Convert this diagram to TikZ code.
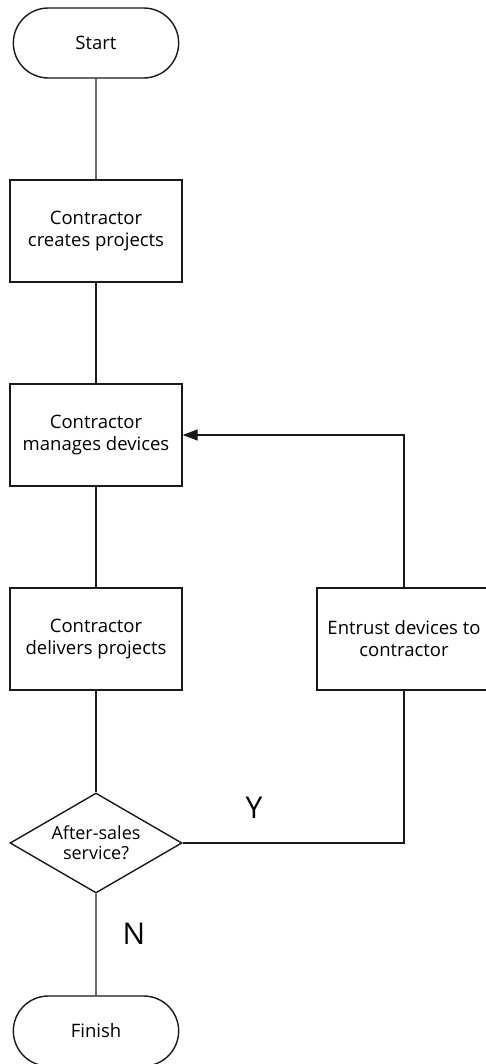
\documentclass[tikz,border=0pt]{standalone}
\usepackage{fontspec}
\setmainfont{Open Sans}
\usetikzlibrary{shapes.misc,shapes.geometric,arrows.meta}

\tikzset{
  flow/.style={line width=1.4pt, draw=black!90},
  terminal/.style={flow, rounded rectangle, minimum width=172pt, minimum height=70pt, font=\fontsize{18.5}{22}\selectfont},
  process/.style={flow, rectangle, minimum width=172pt, minimum height=102pt, align=center, font=\fontsize{18.5}{22}\selectfont},
  decision/.style={flow, diamond, aspect=1.72, inner sep=0pt, minimum width=172pt, minimum height=100pt, align=center, font=\fontsize{18}{20}\selectfont},
  answer/.style={font=\fontsize{30}{30}\selectfont}
}

\begin{document}
\begin{tikzpicture}[x=1pt, y=-1pt]
        \useasboundingbox (0,0) rectangle (486,1064);
        % main column
        \node (start) [terminal] at (96,43) {Start};
        \node (create) [process] at (96,231) {Contractor\\creates projects};
        \node (manage) [process] at (96,435) {Contractor\\manages devices};
        \node (deliver) [process] at (96,639) {Contractor\\delivers projects};
        \node (decide) [decision] at (96,843) {After-sales\\service?};
        \node (finish) [terminal] at (96,1031) {Finish};
        % side branch
        \node (entrust) [process, minimum width=174pt] at (404,639) {Entrust devices to\\contractor};
        % links
        \draw [flow] (start) -- (create);
        \draw [flow] (create) -- (manage);
        \draw [flow] (manage) -- (deliver);
        \draw [flow] (deliver) -- (decide);
        \draw [flow] (decide) -- (finish);
        \draw [flow] (decide.east) -| (entrust.south);
        \draw [flow, -{Triangle[length=15pt, width=11pt]}] (entrust.north) |- (manage.east);
        % branch labels
        \node (yes) [answer] at (254,808) {Y};
        \node (no) [answer] at (134,934) {N};
\end{tikzpicture}
\end{document}
